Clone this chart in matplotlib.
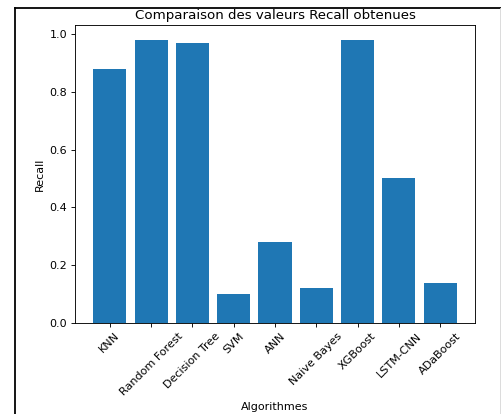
import matplotlib
matplotlib.use("Agg")
import matplotlib.pyplot as plt
from matplotlib.lines import Line2D

algorithmes = ["KNN", "Random Forest", "Decision Tree", "SVM", "ANN",
               "Naive Bayes", "XGBoost", "LSTM-CNN", "ADaBoost"]
recall = [0.88, 0.98, 0.97, 0.10, 0.28, 0.12, 0.98, 0.50, 0.14]

W, H = 501, 414
dpi = 80.5
fig = plt.figure(figsize=(W / dpi, H / dpi), dpi=dpi)
ax = fig.add_axes([75 / W, 91 / H, 400 / W, 297.5 / H])

ax.bar(algorithmes, recall)
ax.set_title("Comparaison des valeurs Recall obtenues")
ax.set_xlabel("Algorithmes")
ax.set_ylabel("Recall")
plt.setp(ax.get_xticklabels(), rotation=45)

# cadre noir autour de la figure
fig.add_artist(Line2D([15 / W, 15 / W], [0, (H - 8) / H], color="black", lw=1.6,
                      transform=fig.transFigure))
fig.add_artist(Line2D([15 / W, 1], [(H - 8) / H, (H - 8) / H], color="black", lw=1.6,
                      transform=fig.transFigure))
fig.add_artist(Line2D([499.5 / W, 499.5 / W], [0, (H - 8) / H], color="#d8d8d8", lw=0.8,
                      transform=fig.transFigure))

fig.savefig("out.png", dpi=dpi)
